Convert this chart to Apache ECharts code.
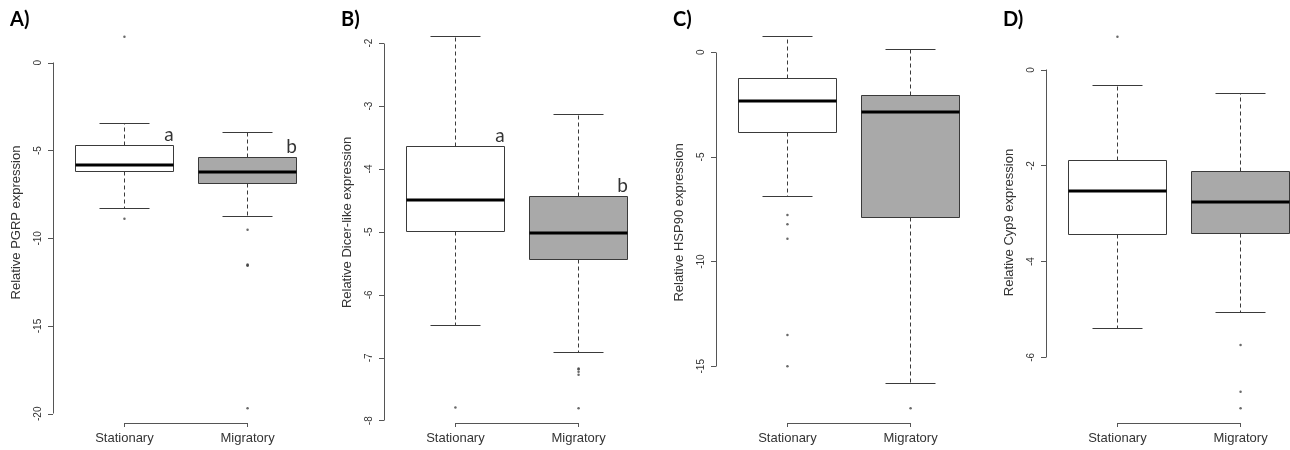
<!DOCTYPE html>
<html>
<head>
<meta charset="utf-8">
<title>Relative expression boxplots</title>
<script src="https://cdn.jsdelivr.net/npm/echarts@6/dist/echarts.min.js"></script>
<style>
  html, body { margin: 0; padding: 0; background: #fff; }
  #main { width: 1290px; height: 450px; }
</style>
</head>
<body>
<div id="main"></div>
<script>
// boxes are [lower whisker, Q1, median, Q3, upper whisker]
var groups = ['Stationary', 'Migratory'];

var pgrpStationary = [-8.30, -6.18, -5.83, -4.69, -3.48];
var pgrpMigratory = [-8.76, -6.90, -6.21, -5.38, -3.95];
var pgrpOutStationary = [1.48, -8.89];
var pgrpOutMigratory = [-9.52, -11.50, -11.53, -11.56, -19.68];
var pgrpTicks = [0, -5, -10, -15, -20];
var pgrpLetters = ['a', 'b'];

var dicerStationary = [-6.48, -4.99, -4.49, -3.64, -1.90];
var dicerMigratory = [-6.92, -5.44, -5.01, -4.43, -3.14];
var dicerOutStationary = [-7.79];
var dicerOutMigratory = [-7.17, -7.18, -7.22, -7.27, -7.80];
var dicerTicks = [-2, -3, -4, -5, -6, -7, -8];
var dicerLetters = ['a', 'b'];

var hspStationary = [-6.87, -3.81, -2.34, -1.24, 0.74];
var hspMigratory = [-15.83, -7.91, -2.87, -2.06, 0.14];
var hspOutStationary = [-7.77, -8.21, -8.91, -13.50, -15.00];
var hspOutMigratory = [-17.00];
var hspTicks = [0, -5, -10, -15];
var hspLetters = [];

var cypStationary = [-5.39, -3.44, -2.52, -1.89, -0.33];
var cypMigratory = [-5.07, -3.41, -2.75, -2.12, -0.49];
var cypOutStationary = [0.69];
var cypOutMigratory = [-5.74, -6.72, -7.06];
var cypTicks = [0, -2, -4, -6];
var cypLetters = [];

var panels = [
    {tag: 'A)', title: 'Relative PGRP expression', left: 53,
     boxes: [pgrpStationary, pgrpMigratory], outs: [pgrpOutStationary, pgrpOutMigratory],
     ticks: pgrpTicks, letters: pgrpLetters},
    {tag: 'B)', title: 'Relative Dicer-like expression', left: 384,
     boxes: [dicerStationary, dicerMigratory], outs: [dicerOutStationary, dicerOutMigratory],
     ticks: dicerTicks, letters: dicerLetters},
    {tag: 'C)', title: 'Relative HSP90 expression', left: 716,
     boxes: [hspStationary, hspMigratory], outs: [hspOutStationary, hspOutMigratory],
     ticks: hspTicks, letters: hspLetters},
    {tag: 'D)', title: 'Relative Cyp9 expression', left: 1046,
     boxes: [cypStationary, cypMigratory], outs: [cypOutStationary, cypOutMigratory],
     ticks: cypTicks, letters: cypLetters}
];

var boxFill = ['#ffffff', '#a9a9a9'];
var lineCol = '#3a3a3a';
var axisCol = '#555555';
var textCol = '#333333';
var sansFont = '"Liberation Sans", Arial, sans-serif';

// R style limits: data range padded by 4%
function padRange(lo, hi) {
    var r = hi - lo;
    return [lo - 0.04 * r, hi + 0.04 * r];
}
var xRange = padRange(0.5, groups.length + 0.5);

function crisp(v) {
    return Math.round(v - 0.5) + 0.5;
}

// boxes plus the short R style axis lines (tick span on y, group span on x)
function makeRenderer(tickLo, tickHi, yMin) {
    return function (params, api) {
        var x = api.value(0);
        var lo = api.value(1), q1 = api.value(2), md = api.value(3), q3 = api.value(4), hi = api.value(5);
        var cx = crisp(api.coord([x, 0])[0]);
        var x0 = crisp(api.coord([x - 0.4, 0])[0]);
        var x1 = crisp(api.coord([x + 0.4, 0])[0]);
        var s0 = crisp(api.coord([x - 0.2, 0])[0]);
        var s1 = crisp(api.coord([x + 0.2, 0])[0]);
        var yLo = crisp(api.coord([x, lo])[1]);
        var yQ1 = crisp(api.coord([x, q1])[1]);
        var yMd = Math.round(api.coord([x, md])[1]);
        var yQ3 = crisp(api.coord([x, q3])[1]);
        var yHi = crisp(api.coord([x, hi])[1]);
        var dash = {stroke: lineCol, lineWidth: 1, lineDash: [4, 3]};
        var solid = {stroke: lineCol, lineWidth: 1};
        var kids = [
            {type: 'line', shape: {x1: cx, y1: yQ3, x2: cx, y2: yHi}, style: dash},
            {type: 'line', shape: {x1: cx, y1: yQ1, x2: cx, y2: yLo}, style: dash},
            {type: 'line', shape: {x1: s0, y1: yHi, x2: s1, y2: yHi}, style: solid},
            {type: 'line', shape: {x1: s0, y1: yLo, x2: s1, y2: yLo}, style: solid},
            {type: 'rect', shape: {x: x0, y: yQ3, width: x1 - x0, height: yQ1 - yQ3},
             style: {fill: boxFill[params.dataIndex], stroke: lineCol, lineWidth: 1}},
            {type: 'line', shape: {x1: x0, y1: yMd, x2: x1, y2: yMd},
             style: {stroke: '#000', lineWidth: 3}}
        ];
        if (params.dataIndex === 0) {
            var ax = crisp(api.coord([xRange[0], 0])[0]);
            var ya = crisp(api.coord([x, tickHi])[1]);
            var yb = crisp(api.coord([x, tickLo])[1]);
            var by = crisp(api.coord([1, yMin])[1]);
            var bx0 = cx;
            var bx1 = crisp(api.coord([groups.length, 0])[0]);
            kids.push({type: 'line', shape: {x1: ax, y1: ya, x2: ax, y2: yb},
                       style: {stroke: axisCol, lineWidth: 1}});
            kids.push({type: 'line', shape: {x1: bx0, y1: by, x2: bx1, y2: by},
                       style: {stroke: axisCol, lineWidth: 1}});
        }
        return {type: 'group', children: kids};
    };
}

var grids = [], xAxes = [], yAxes = [], series = [], graphics = [];

panels.forEach(function (p, k) {
    var all = [];
    p.boxes.forEach(function (b) { all = all.concat(b); });
    p.outs.forEach(function (o) { all = all.concat(o); });
    var yRange = padRange(Math.min.apply(null, all), Math.max.apply(null, all));
    var tickHi = Math.max.apply(null, p.ticks);
    var tickLo = Math.min.apply(null, p.ticks);

    grids.push({left: p.left, top: 22, width: 266, height: 401, outerBoundsMode: 'none', containLabel: false});

    xAxes.push({
        type: 'value', gridIndex: k, min: xRange[0], max: xRange[1],
        axisLine: {show: false, onZero: false},
        splitLine: {show: false},
        axisTick: {show: true, customValues: [1, 2], length: 4, lineStyle: {color: axisCol}},
        axisLabel: {
            customValues: [1, 2], margin: 9, color: textCol, fontSize: 13, fontFamily: sansFont,
            formatter: function (v) { return groups[Math.round(v) - 1]; }
        }
    });

    yAxes.push({
        type: 'value', gridIndex: k, min: yRange[0], max: yRange[1],
        name: p.title, nameLocation: 'middle', nameGap: 30,
        nameTextStyle: {color: textCol, fontSize: 13, fontFamily: sansFont},
        axisLine: {show: false, onZero: false},
        splitLine: {show: false},
        axisTick: {show: true, customValues: p.ticks, length: 5, lineStyle: {color: axisCol}},
        axisLabel: {customValues: p.ticks, rotate: 90, margin: 10, color: textCol,
                    fontSize: 10, fontFamily: sansFont}
    });

    series.push({
        type: 'custom', xAxisIndex: k, yAxisIndex: k,
        renderItem: makeRenderer(tickLo, tickHi, yRange[0]),
        encode: {x: 0, y: [1, 2, 3, 4, 5]},
        data: p.boxes.map(function (b, i) { return [i + 1].concat(b); }),
        clip: false,
        silent: true
    });

    var pts = [];
    p.outs.forEach(function (o, i) {
        o.forEach(function (v) { pts.push([i + 1, v]); });
    });
    series.push({
        type: 'scatter', xAxisIndex: k, yAxisIndex: k,
        symbol: 'circle', symbolSize: 2.5, clip: false, silent: true,
        itemStyle: {color: '#444'},
        data: pts
    });

    if (p.letters.length) {
        series.push({
            type: 'scatter', xAxisIndex: k, yAxisIndex: k,
            symbolSize: 0, clip: false, silent: true,
            data: p.boxes.map(function (b, i) { return [i + 1 + 0.4, b[3]]; }),
            label: {
                show: true, position: [0, 0], align: 'right', verticalAlign: 'bottom',
                offset: [0, -1],
                formatter: function (d) { return p.letters[d.dataIndex]; },
                color: '#000', fontSize: 19, fontFamily: 'Lato, "Open Sans", sans-serif'
            }
        });
    }

    graphics.push({
        type: 'text', left: p.left - 43, top: 10,
        style: {text: p.tag, fill: '#000', font: 'bold 20px Lato, "Open Sans", sans-serif'}
    });
});

var chart = echarts.init(document.getElementById('main'));
chart.setOption({
    animation: false,
    grid: grids,
    xAxis: xAxes,
    yAxis: yAxes,
    series: series,
    graphic: graphics
});
</script>
</body>
</html>
